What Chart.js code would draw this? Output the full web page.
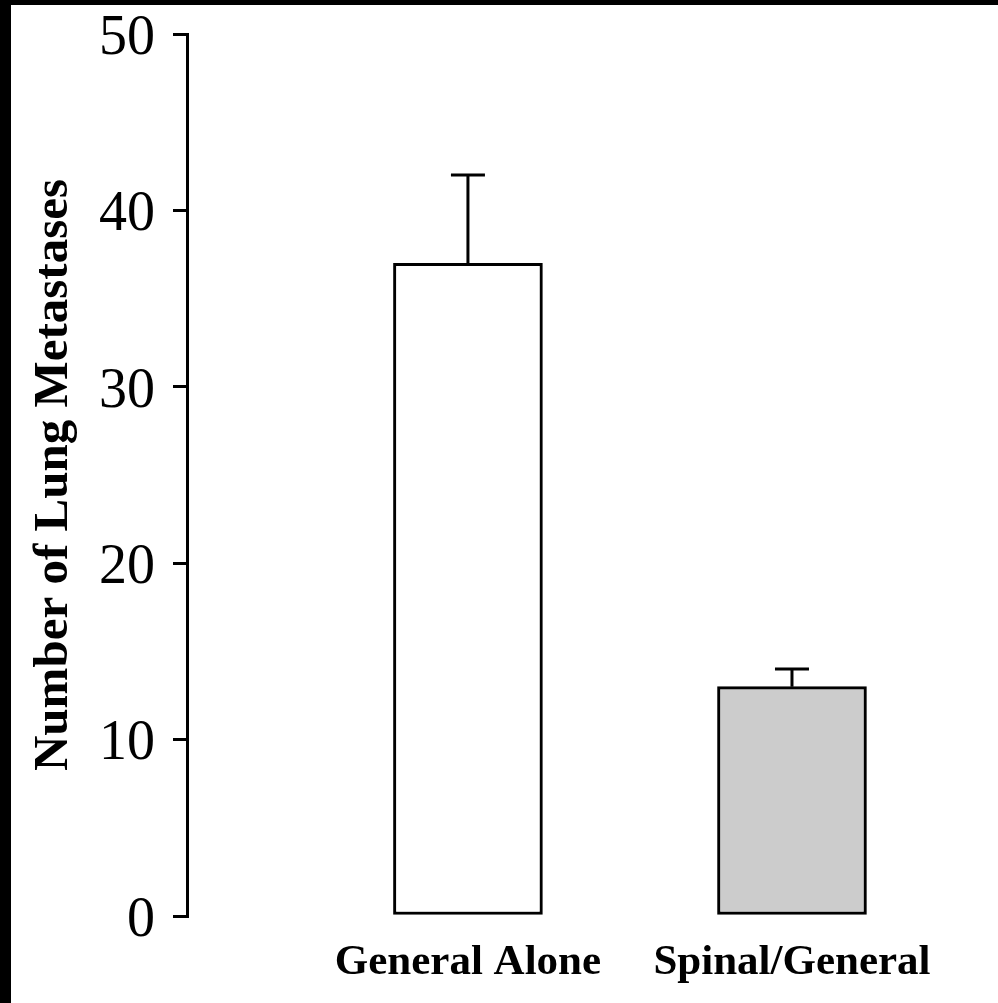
<!DOCTYPE html>
<html>
<head>
<meta charset="utf-8">
<title>Number of Lung Metastases</title>
<script src="https://cdn.jsdelivr.net/npm/chart.js@4.4.1/dist/chart.umd.min.js"></script>
<style>
  html, body { margin: 0; padding: 0; background: #000; }
  #wrap {
    position: absolute; left: 11px; top: 5px;
    width: 987px; height: 998px; background: #fff;
  }
</style>
</head>
<body>
<div id="wrap"><canvas id="chart"></canvas></div>
<script>
// groups, means and SEM
const groups = ['General Alone', 'Spinal/General'];
const means  = [37, 13];
const errors = [5, 1];
const fills  = ['#ffffff', '#cccccc'];
const yTicks = [0, 10, 20, 30, 40, 50];

const serif = '"Liberation Serif", "Times New Roman", serif';

// one-sided error bars drawn on top of each bar
const errorBars = {
  id: 'errorBars',
  afterDatasetsDraw(chart) {
    const { ctx } = chart;
    const xs = chart.scales.x, ys = chart.scales.y;
    ctx.save();
    ctx.strokeStyle = '#000';
    ctx.lineWidth = 3;
    means.forEach((m, i) => {
      const x = xs.getPixelForValue(i);
      const yTop = ys.getPixelForValue(m + errors[i]);
      const yBar = ys.getPixelForValue(m);
      ctx.beginPath();
      ctx.moveTo(x, yBar);
      ctx.lineTo(x, yTop);
      ctx.moveTo(x - 17, yTop);
      ctx.lineTo(x + 17, yTop);
      ctx.stroke();
    });
    ctx.restore();
  }
};

new Chart(document.getElementById('chart'), {
  type: 'bar',
  data: {
    datasets: [{
      data: means.map((v, i) => ({ x: i, y: v })),
      backgroundColor: fills,
      borderColor: '#000',
      borderWidth: 3,
      borderSkipped: false,
      barThickness: 149
    }]
  },
  options: {
    responsive: true,
    maintainAspectRatio: false,
    animation: false,
    layout: { padding: { top: 29, right: 44, bottom: 0, left: 0 } },
    plugins: { legend: { display: false }, tooltip: { enabled: false } },
    scales: {
      x: {
        type: 'linear',
        offset: false,
        min: -0.867,
        max: 1.5,
        afterBuildTicks(scale) { scale.ticks = groups.map((g, i) => ({ value: i })); },
        afterFit(scale) { scale.height = 87; },
        grid: { display: false, drawTicks: false },
        border: { display: false },
        ticks: {
          autoSkip: false,
          maxRotation: 0,
          padding: 21,
          color: '#000',
          font: { family: serif, size: 43, weight: 'bold' },
          callback: v => groups[v]
        }
      },
      y: {
        min: 0,
        max: 50,
        afterBuildTicks(scale) { scale.ticks = yTicks.map(v => ({ value: v })); },
        afterFit(scale) {
          scale.width = 176;
          scale.paddingTop = 0;
          scale.paddingBottom = 0;
        },
        border: { display: true, color: '#000', width: 3 },
        grid: { drawOnChartArea: false, drawTicks: true, tickLength: 14, color: '#000', lineWidth: 3 },
        ticks: {
          padding: 18,
          labelOffset: 5,
          color: '#000',
          font: { family: serif, size: 56 }
        },
        title: {
          display: true,
          text: 'Number of Lung Metastases',
          color: '#000',
          padding: { top: 14, bottom: 0 },
          font: { family: serif, size: 49, weight: 'bold' }
        }
      }
    }
  },
  plugins: [errorBars]
});
</script>
</body>
</html>
